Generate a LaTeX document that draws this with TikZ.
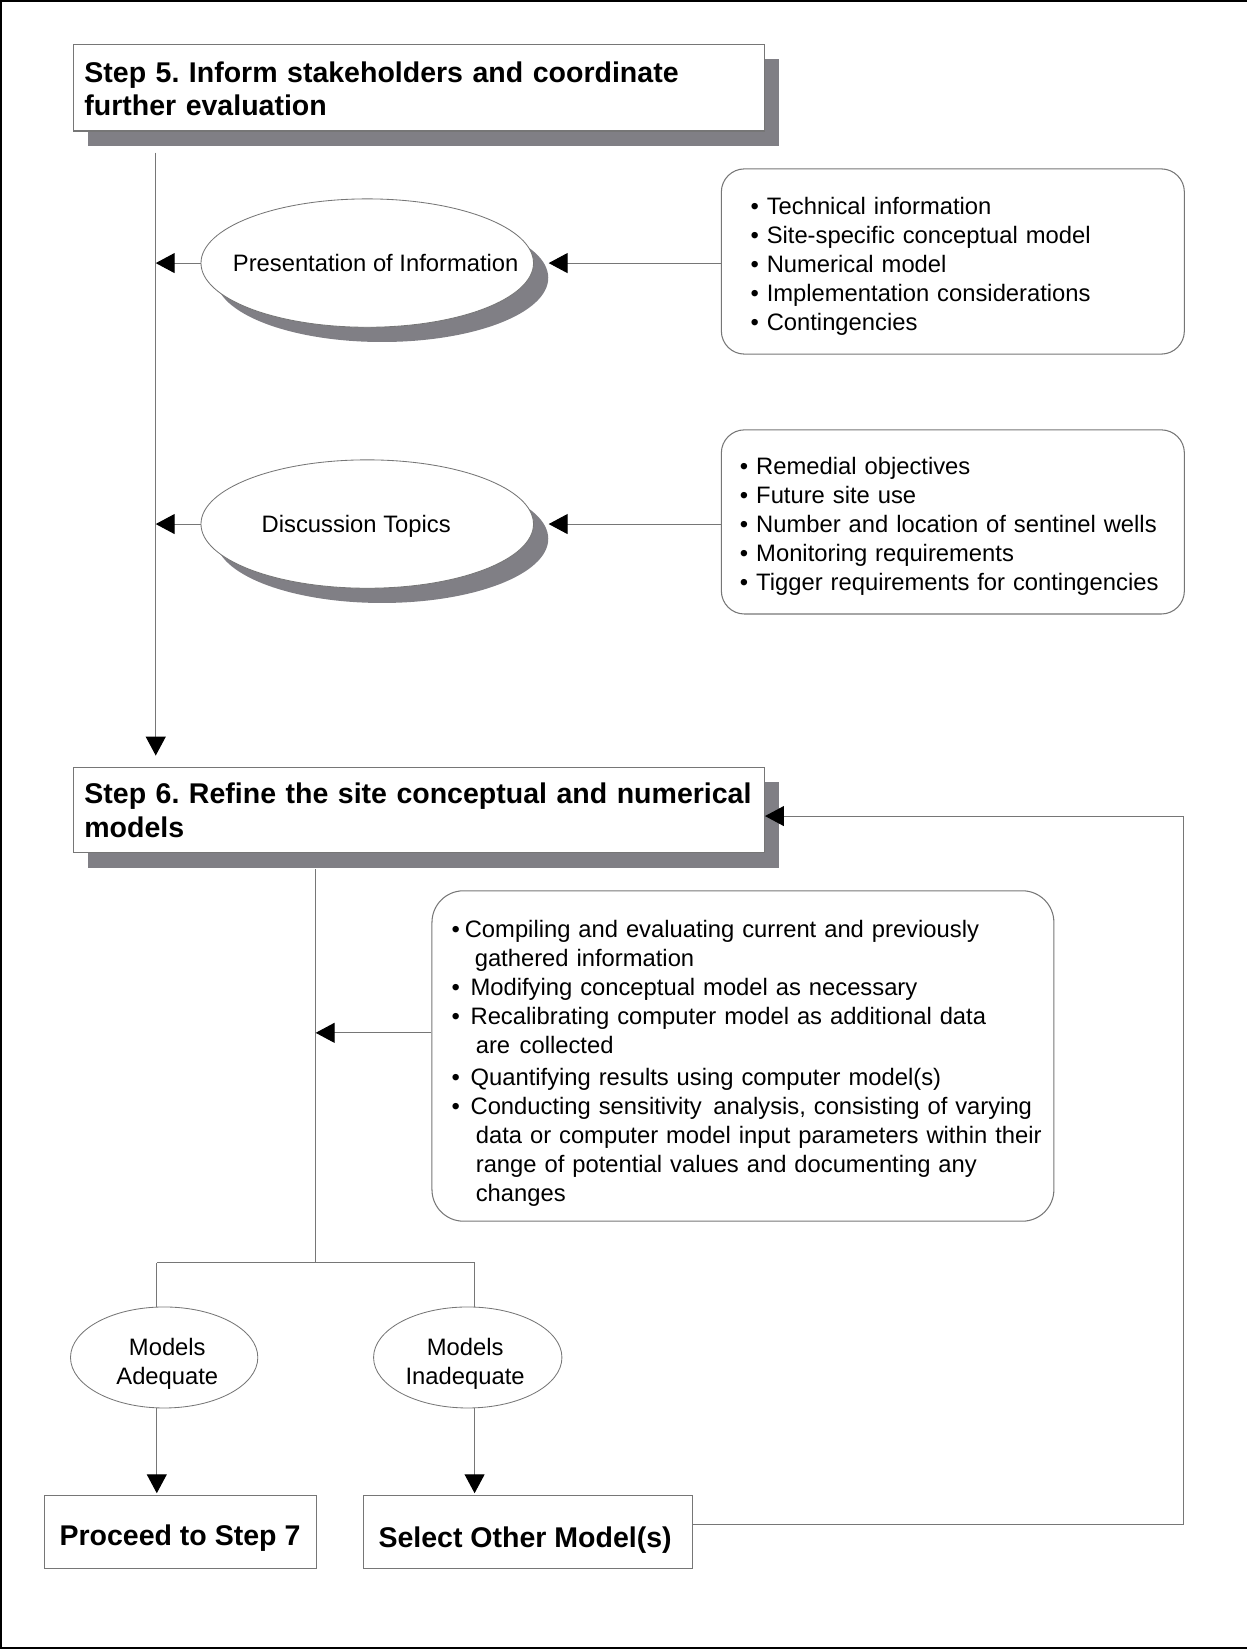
\documentclass[tikz,border=0pt]{standalone}
\usepackage{fontspec}
\setmainfont{Liberation Sans}
\usetikzlibrary{arrows.meta,shapes.geometric,shadows}
\definecolor{edgegrey}{RGB}{118,118,118}
\definecolor{shadegrey}{RGB}{128,127,133}
\newcommand\bodysize{\fontsize{22.6pt}{27.5pt}\selectfont\frenchspacing}
\newcommand\headsize{\fontsize{27.1pt}{32pt}\selectfont\bfseries\frenchspacing}
\hyphenpenalty=10000

\begin{document}
\begin{tikzpicture}[x=1pt,y=-1pt,
  conn/.style={draw=edgegrey, line width=1pt},
  tip/.style={-{Triangle[length=18pt,width=19pt,color=black,fill=black]}},
  castshadow/.style={drop shadow={shadow xshift=14pt, shadow yshift=-14pt, fill=shadegrey, opacity=1}},
  stepbox/.style={rectangle, draw=edgegrey, fill=white, line width=1pt, inner sep=0pt, castshadow},
  topic/.style={ellipse, draw=edgegrey, fill=white, line width=0.8pt, inner sep=0pt,
    minimum width=316pt, minimum height=122pt, castshadow},
  listbox/.style={rectangle, draw=edgegrey, rounded corners=22pt, line width=1pt, inner sep=0pt},
  outcome/.style={ellipse, draw=edgegrey, line width=0.8pt, inner sep=0pt,
    minimum width=178pt, minimum height=96pt},
  endbox/.style={rectangle, draw=edgegrey, line width=1pt, inner sep=0pt},
  headtext/.style={inner sep=0pt, font=\headsize, align=left, text width=700pt},
  bodytext/.style={inner sep=0pt, font=\bodysize},
  bigtext/.style={inner sep=0pt, font=\headsize},
]
\useasboundingbox (0,0) rectangle (1185,1568);

% page frame
\draw[line width=2pt] (1190,1) -- (1,1) -- (1,1566) -- (1190,1566);

% Step 5
\node[stepbox, minimum width=657pt, minimum height=82pt, anchor=north west] (s5) at (69,42) {};
\node[headtext, anchor=base west] (s5t) at (80,78)
  {Step 5. Inform stakeholders and coordinate\\further evaluation};

% presentation of information
\node[topic] (e1) at (349,250) {};
\node[bodytext, anchor=base] (e1t) at (357,258) {Presentation of Information};
\node[listbox, minimum width=440pt, minimum height=176pt, anchor=north west] (b1) at (685,160) {};
\node[bodytext, align=left, text width=420pt, anchor=base west] (b1t) at (713,204)
  {• Technical information\\
   • Site-specific conceptual model\\
   • Numerical model\\
   • Implementation considerations\\
   • Contingencies};

% discussion topics
\node[topic] (e2) at (349,498) {};
\node[bodytext, anchor=base] (e2t) at (338.5,506) {Discussion Topics};
\node[listbox, minimum width=440pt, minimum height=175pt, anchor=north west] (b2) at (685,408) {};
\node[bodytext, align=left, text width=440pt, anchor=base west] (b2t) at (703,451)
  {• Remedial objectives\\
   • Future site use\\
   • Number and location of sentinel wells\\
   • Monitoring requirements\\
   • Tigger requirements for contingencies};

% Step 6
\node[stepbox, minimum width=657pt, minimum height=81pt, anchor=north west] (s6) at (69,729) {};
\node[headtext, anchor=base west] (s6t) at (80,764)
  {Step 6. Refine the site conceptual and numerical\\models};

% refinement activities
\node[listbox, rounded corners=30pt, minimum width=591pt, minimum height=314pt, anchor=north west] (b3) at (410,846) {};
\node[bodytext, align=left, text width=640pt, anchor=base west] (b3t) at (429,891)
  {\makebox[12.5pt][l]{•}Compiling and evaluating current and previously\\
   \hspace*{22pt}gathered information\\
   \makebox[18pt][l]{•}Modifying conceptual model as necessary\\
   \makebox[18pt][l]{•}Recalibrating computer model as additional data\\
   \hspace*{23pt}are\hspace{9pt}collected\\[3pt]
   \makebox[18pt][l]{•}Quantifying results using computer model(s)\\
   \makebox[18pt][l]{•}Conducting sensitivity\hspace{11pt}analysis, consisting of varying\\
   \hspace*{23pt}data or computer model input parameters within their\\
   \hspace*{23pt}range of potential values and documenting any\\
   \hspace*{23pt}changes};

% outcomes
\node[outcome] (eA) at (156,1290) {};
\node[bodytext, align=center, text width=170pt, anchor=base] (eAt) at (159,1288) {Models\\Adequate};
\node[outcome, minimum width=179pt] (eB) at (444.5,1290) {};
\node[bodytext, align=center, text width=170pt, anchor=base] (eBt) at (442,1288) {Models\\Inadequate};

\node[endbox, minimum width=258pt, minimum height=69pt, anchor=north west] (pr) at (42,1421) {};
\node[bigtext, anchor=base] (prt) at (171,1469) {Proceed to Step 7};
\node[endbox, minimum width=313pt, minimum height=69pt, anchor=north west] (so) at (345,1421) {};
\node[bigtext, anchor=base] (sot) at (499,1471) {Select Other Model(s)};

% connectors
\coordinate (v5) at (148,145);
\draw[conn, tip, shorten >=11pt] (v5) -- (v5 |- s6.north);
\draw[conn, tip] (e1.west) -- (e1.west -| v5);
\draw[conn, tip] (e1 -| b1.west) -- ([xshift=14pt]e1.east);
\draw[conn, tip] (e2.west) -- (e2.west -| v5);
\draw[conn, tip] (e2 -| b2.west) -- ([xshift=14pt]e2.east);

\coordinate (v6) at (300,826);
\coordinate (fork) at (300,1200);
\coordinate (forkL) at (149,1200);
\coordinate (forkR) at (451,1200);
\draw[conn] (v6) -- (fork);
\draw[conn] (forkL) -- (forkR);
\draw[conn] (forkL) -- (forkL |- eA.north);
\draw[conn] (forkR) -- (forkR |- eB.north);
\coordinate (b3in) at ([yshift=22pt]b3.west);
\draw[conn, tip] (b3in) -- (b3in -| v6);

\draw[conn, tip, shorten >=2pt] (eA.south -| forkL) -- (forkL |- pr.north);
\draw[conn, tip, shorten >=2pt] (eB.south -| forkR) -- (forkR |- so.north);

\coordinate (soout) at ([yshift=7.5pt]so.east);
\coordinate (ret) at (1125,775.5);
\draw[conn, tip] (soout) -| (ret) -- (ret -| s6.east);
\end{tikzpicture}
\end{document}
